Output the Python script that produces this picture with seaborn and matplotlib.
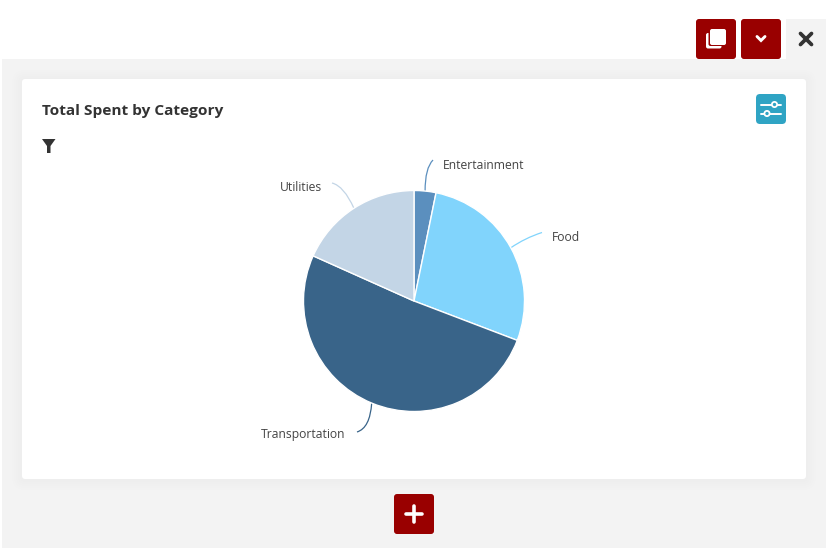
import numpy as np
import seaborn as sns
from matplotlib import pyplot as plt
from matplotlib.patches import FancyBboxPatch, Rectangle, Polygon, Circle, PathPatch
from matplotlib.path import Path

categories = ['Entertainment', 'Food', 'Transportation', 'Utilities']
spent = [3.2, 27.6, 50.9, 18.3]
slice_colors = ['#5B8FBE', '#81D4FC', '#396489', '#C3D5E6']

title = 'Total Spent by Category'
W, H = 837, 559
RED = '#990000'
DARK = '#333333'

sns.set_theme(style='white')
plt.rcParams['font.family'] = ['Open Sans', 'DejaVu Sans']

fig = plt.figure(figsize=(W / 100, H / 100), dpi=100)

# page drawn in pixel coords so it lines up with the screenshot
page = fig.add_axes([0, 0, 1, 1])
page.set_xlim(0, W)
page.set_ylim(H, 0)
page.axis('off')


def box(x, y, w, h, color, r=3, **kw):
    p = FancyBboxPatch((x + r, y + r), w - 2 * r, h - 2 * r, boxstyle='round,pad=%s,rounding_size=%s' % (r, r),
                       fc=color, ec='none', **kw)
    page.add_patch(p)


page.add_patch(Rectangle((2, 59), 824, 489, fc='#F3F3F3', ec='none'))
page.add_patch(Rectangle((786, 19), 40, 40, fc='#F3F3F3', ec='none'))

# soft card shadow
for grow in [10, 8, 6, 4, 2]:
    box(22 - grow, 79 - grow + 1, 784 + 2 * grow, 400 + 2 * grow, 'black', r=grow + 3, alpha=0.005)
box(22, 79, 784, 400, 'white', r=3)

# buttons
box(696, 19, 40, 40, RED)
box(741, 19, 40, 40, RED)
box(394, 494, 40, 40, RED)
box(756, 94, 30, 30, '#2FA4C4', r=4)

# copy icon
box(706, 33, 15.5, 15.5, 'white', r=2)
box(708.5, 27.5, 18.5, 18.5, RED, r=2)
box(710, 29, 16, 16, 'white', r=2)
# chevron
page.plot([757, 761, 765], [36.5, 40.5, 36.5], color='white', lw=2.1, solid_capstyle='round', solid_joinstyle='miter')
# close
page.plot([800.5, 811.5], [33.5, 44.5], color=DARK, lw=2.7, solid_capstyle='round')
page.plot([800.5, 811.5], [44.5, 33.5], color=DARK, lw=2.7, solid_capstyle='round')
# plus
page.plot([406.5, 422], [514, 514], color='white', lw=2.6, solid_capstyle='round')
page.plot([414, 414], [506, 522], color='white', lw=2.6, solid_capstyle='round')
# filter
page.add_patch(Polygon([(42, 139), (55.5, 139), (50.5, 146), (50.5, 153), (47, 153), (47, 146)], fc=DARK, ec='none'))
# sliders
page.plot([761, 781], [104.5, 104.5], color='white', lw=1.4)
page.plot([761, 781], [113.5, 113.5], color='white', lw=1.4)
page.add_patch(Circle((774.5, 104.5), 2.6, fc='#2FA4C4', ec='white', lw=1.3, zorder=3))
page.add_patch(Circle((767, 113.5), 2.6, fc='#2FA4C4', ec='white', lw=1.3, zorder=3))

page.text(42, 110.5, title, fontsize=11.1, fontweight='bold', color=DARK, va='center', ha='left')

# pie
cx, cy, rad = 414, 301, 110.5
pie_ax = fig.add_axes([(cx - rad) / W, 1 - (cy + rad) / H, 2 * rad / W, 2 * rad / H])
pie_ax.pie(spent, colors=slice_colors, startangle=90, counterclock=False, radius=1)
pie_ax.set_xlim(-1, 1)
pie_ax.set_ylim(-1, 1)

# leader end, control point and label spot for each slice
leader_ends = [(433, 160), (542, 232.5), (357, 432), (332, 183)]
leader_ctrl = [(425, 168), (525, 238), (370, 428), (344, 186)]
label_spots = [(443, 165.5, 'left'), (552, 237.5, 'left'), (345, 434.5, 'right'), (322, 187.5, 'right')]

totals = np.cumsum(spent)
for i, name in enumerate(categories):
    mid = np.radians((totals[i] - spent[i] / 2) / totals[-1] * 360)
    start = (cx + rad * np.sin(mid), cy - rad * np.cos(mid))
    path = Path([start, leader_ctrl[i], leader_ends[i]], [Path.MOVETO, Path.CURVE3, Path.CURVE3])
    page.add_patch(PathPatch(path, fc='none', ec=slice_colors[i], lw=0.9))
    lx, ly, ha = label_spots[i]
    page.text(lx, ly, name, fontsize=8.7, color='#444444', ha=ha, va='center')

fig.savefig('out.png', dpi=100)
